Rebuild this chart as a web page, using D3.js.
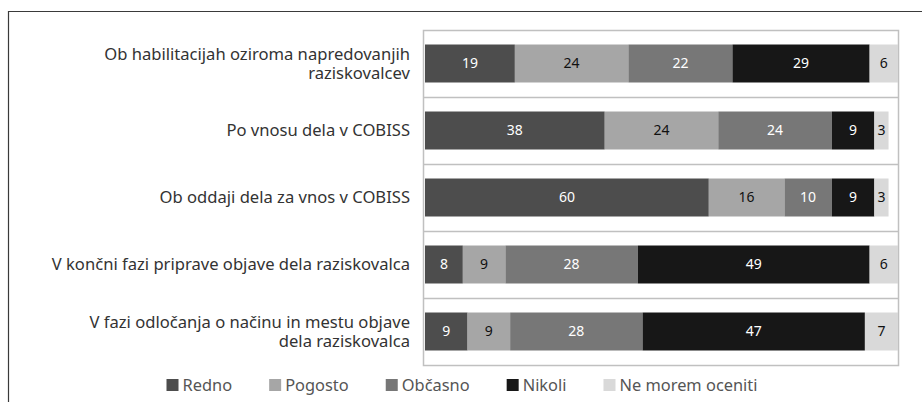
<!DOCTYPE html>
<html>
<head>
<meta charset="utf-8">
<script src="https://cdn.jsdelivr.net/npm/d3@7"></script>
<style>
  body { margin: 0; background: #fff; }
  svg text { font-family: "Noto Sans", sans-serif; }
</style>
</head>
<body>
<div class="chart"></div>
<script>
//Data
var categories = [
    ["Ob habilitacijah oziroma napredovanjih", "raziskovalcev"],
    ["Po vnosu dela v COBISS"],
    ["Ob oddaji dela za vnos v COBISS"],
    ["V končni fazi priprave objave dela raziskovalca"],
    ["V fazi odločanja o načinu in mestu objave", "dela raziskovalca"]
];
var seriesNames = ["Redno", "Pogosto", "Občasno", "Nikoli", "Ne morem oceniti"];
var redno = [19, 38, 60, 8, 9];
var pogosto = [24, 24, 16, 9, 9];
var obcasno = [22, 24, 10, 28, 28];
var nikoli = [29, 9, 9, 49, 47];
var nemorem = [6, 3, 3, 6, 7];

var colors = ["#4d4d4d", "#a6a6a6", "#777777", "#171717", "#d9d9d9"];
var labelColors = ["#ffffff", "#111111", "#ffffff", "#ffffff", "#111111"];

//Width and height
var w = 922;
var h = 402;
var box = {left: 424, right: 898, top: 30, bottom: 365};

var svg = d3.select(".chart")
    .append("svg")
    .attr("width", w)
    .attr("height", h);

//Outer frame
svg.append("path")
    .attr("d", "M8.5," + h + "V11.5H" + w)
    .attr("fill", "none")
    .attr("stroke", "#3a3a3a")
    .attr("stroke-width", 1.2);

//Build rows
var keys = d3.range(categories.length);
var table = keys.map(i => {
    var row = {idx: i};
    [redno, pogosto, obcasno, nikoli, nemorem].forEach((s, j) => row[j] = s[i]);
    return row;
});
var stacked = d3.stack().keys(d3.range(seriesNames.length))(table);

//Scales
var x = d3.scaleLinear()
    .domain([0, 100])
    .range([box.left + 1, box.right]);

var y = d3.scaleBand()
    .domain(keys)
    .range([box.top, box.bottom])
    .paddingInner(0.433)
    .paddingOuter(0.2165);

//Plot box
svg.append("rect")
    .attr("x", box.left - 0.5)
    .attr("y", box.top + 0.5)
    .attr("width", box.right - box.left + 1)
    .attr("height", box.bottom - box.top)
    .attr("fill", "none")
    .attr("stroke", "#c0c0c0")
    .attr("stroke-width", 1.5);

//Row separators
svg.append("g")
    .selectAll("line")
    .data(keys.slice(1))
    .join("line")
    .attr("x1", box.left)
    .attr("x2", box.right)
    .attr("y1", d => Math.round(y(d) - y.step() * y.paddingInner() / 2) + 0.5)
    .attr("y2", d => Math.round(y(d) - y.step() * y.paddingInner() / 2) + 0.5)
    .attr("stroke", "#c0c0c0")
    .attr("stroke-width", 1.5);

//Bars
var groups = svg.append("g")
    .selectAll("g")
    .data(stacked)
    .join("g")
    .attr("fill", (d, i) => colors[i]);

groups.selectAll("rect")
    .data(d => d)
    .join("rect")
    .attr("x", d => x(d[0]))
    .attr("y", (d, i) => y(i))
    .attr("width", d => x(d[1]) - x(d[0]))
    .attr("height", y.bandwidth());

//Bar labels
svg.append("g")
    .selectAll("g")
    .data(stacked)
    .join("g")
    .attr("fill", (d, i) => labelColors[i])
    .selectAll("text")
    .data(d => d)
    .join("text")
    .attr("x", d => (x(d[0]) + x(d[1])) / 2)
    .attr("y", (d, i) => y(i) + y.bandwidth() / 2)
    .attr("dy", "0.35em")
    .attr("text-anchor", "middle")
    .attr("font-size", 14)
    .text(d => d[1] - d[0]);

//Category labels (each line is its own text)
var lines = [];
categories.forEach((c, i) => c.forEach((t, k) => lines.push({t: t, row: i, k: k, n: c.length})));

svg.append("g")
    .selectAll("text")
    .data(lines)
    .join("text")
    .attr("text-anchor", "end")
    .attr("fill", "#333")
    .attr("font-size", 16.6)
    .attr("x", 410)
    .attr("y", d => y(d.row) + y.bandwidth() / 2 + (d.k - (d.n - 1) / 2) * 19)
    .attr("dy", "0.35em")
    .text(d => d.t);

//Legend
var legend = svg.append("g")
    .attr("id", "legend");

var items = legend.selectAll("g")
    .data(seriesNames)
    .join("g");

items.append("rect")
    .attr("width", 12)
    .attr("height", 12)
    .attr("y", 379)
    .attr("fill", (d, i) => colors[i]);

items.append("text")
    .attr("x", 16)
    .attr("y", 385)
    .attr("dy", "0.35em")
    .attr("font-size", 16.4)
    .attr("fill", "#555")
    .text(d => d);

var offset = 0;
var widths = [];
items.each(function() {
    widths.push(this.getBBox().width);
});
var total = d3.sum(widths) + 37 * (widths.length - 1);
offset = 462 - total / 2;
items.attr("transform", (d, i) => {
    var t = "translate(" + offset + ",0)";
    offset += widths[i] + 37;
    return t;
});
</script>
</body>
</html>
